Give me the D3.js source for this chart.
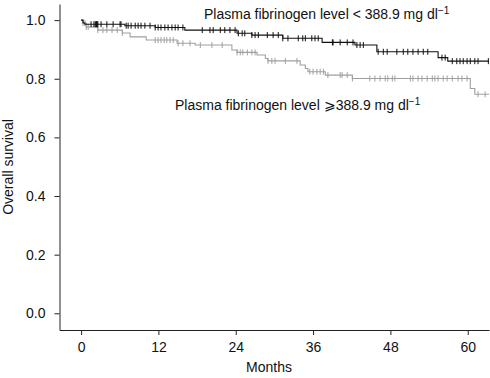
<!DOCTYPE html>
<html>
<head>
<meta charset="utf-8">
<script src="https://cdn.jsdelivr.net/npm/d3@7"></script>
<style>
  body { margin: 0; background: #fff; }
  text { font-family: "Liberation Sans", Arial, Helvetica, sans-serif; }
</style>
</head>
<body>
<div id="chart"></div>
<script>
// Kaplan-Meier steps: [month, survival after the drop]
var lowSteps = [[0,1],[0.3,0.99],[0.6,0.986],[6.8,0.981],[11.5,0.975],[16.1,0.966],[24.2,0.955],
    [26.5,0.949],[31.3,0.938],[37.4,0.924],[42.5,0.915],[45.9,0.892],[55.4,0.872],[56.9,0.860]];
var highSteps = [[0,1],[0.3,0.99],[0.8,0.977],[2.6,0.966],[6.4,0.956],[7.6,0.943],[10.1,0.932],
    [14.9,0.921],[17.7,0.915],[23.4,0.898],[24.2,0.890],[27.3,0.881],[28.6,0.869],[29.0,0.861],
    [34.0,0.847],[34.8,0.835],[35.2,0.824],[37.9,0.8125],[42.1,0.801],[60.4,0.767],[61.1,0.747]];
var followUpEnd = 63.3;

// censored observations (months)
var lowCensor = [1.55,2.0,2.2,2.33,2.4,2.5,2.6,3.1,4.0,4.97,6.05,6.2,7.0,7.3,7.76,8.4,8.85,9.3,9.9,10.7,11.5,
    11.95,12.4,13.0,13.5,14.1,14.6,15.05,15.8,18.8,20.0,20.5,21.6,22.3,23.1,23.9,24.4,25.0,25.4,26.5,27.0,
    27.5,28.9,29.8,30.6,31.3,32.1,33.7,34.4,34.8,35.8,36.3,36.8,39.0,39.1,40.2,41.3,42.2,42.8,43.3,43.8,
    46.1,46.9,47.5,49.0,50.0,50.7,51.5,52.3,53.1,53.8,56.0,56.5,57.6,58.3,58.8,59.3,59.9,60.4,61.1,61.6,63.2];
var highCensor = [0.3,0.6,0.8,1.1,2.6,3.4,4.0,4.8,5.6,6.4,11.5,11.95,12.4,12.9,13.3,13.8,14.3,15.05,15.8,16.9,
    18.5,20.3,21.9,24.2,24.7,25.1,25.8,26.5,27.0,29.0,29.6,30.1,31.7,33.5,35.5,36.0,36.6,37.1,37.6,38.3,
    40.2,40.5,41.3,42.1,44.8,45.6,46.4,47.2,47.6,48.3,48.7,51.1,51.5,52.3,52.9,53.7,54.5,54.9,55.4,56.2,
    56.8,57.6,58.5,59.1,59.9,61.6,62.7];

var monthTicks = [0, 12, 24, 36, 48, 60];
var survTicks = [0, 0.2, 0.4, 0.6, 0.8, 1.0];

var svg = d3.select("#chart").append("svg")
    .attr("width", 490)
    .attr("height", 378);

var x = d3.scaleLinear().domain([-3.35, 63.3]).range([59.5, 489]);
var y = d3.scaleLinear().domain([-0.057, 1.055]).range([330, 4]);

function survAt(steps, t) {
    var s = 1;
    steps.forEach(function(d) { if (d[0] <= t) s = d[1]; });
    return s;
}

var line = d3.line()
    .x(function(d) { return x(d[0]); })
    .y(function(d) { return y(d[1]); })
    .curve(d3.curveStepAfter);

function drawGroup(steps, censor, color) {
    var pts = steps.concat([[followUpEnd, steps[steps.length - 1][1]]]);
    svg.append("path")
        .attr("d", line(pts))
        .attr("fill", "none")
        .attr("stroke", color)
        .attr("stroke-width", 1.1);
    svg.selectAll(null)
        .data(censor)
        .enter().append("line")
        .attr("x1", function(d) { return x(d); })
        .attr("x2", function(d) { return x(d); })
        .attr("y1", function(d) { return y(survAt(steps, d)) - 3; })
        .attr("y2", function(d) { return y(survAt(steps, d)) + 3; })
        .attr("stroke", color)
        .attr("stroke-width", 1);
}

drawGroup(highSteps, highCensor, "#a0a0a0");
drawGroup(lowSteps, lowCensor, "#111");

// axes
var xAxis = svg.append("g")
    .attr("transform", "translate(0,330)")
    .call(d3.axisBottom(x).tickValues(monthTicks).tickSize(5).tickPadding(7).tickSizeOuter(0));
var yAxis = svg.append("g")
    .attr("transform", "translate(59.5,0)")
    .call(d3.axisLeft(y).tickValues(survTicks).tickFormat(d3.format(".1f")).tickSize(5).tickPadding(9).tickSizeOuter(0));

[xAxis, yAxis].forEach(function(a) {
    a.select(".domain").attr("stroke", "#222");
    a.selectAll(".tick line").attr("stroke", "#222");
    a.selectAll(".tick text")
        .attr("fill", "#111")
        .style("font-size", "14px")
        .style("font-family", "'Liberation Sans', Arial, sans-serif");
});

svg.append("text")
    .attr("x", 269)
    .attr("y", 372)
    .attr("text-anchor", "middle")
    .attr("fill", "#111")
    .style("font-size", "14px")
    .text("Months");

svg.append("text")
    .attr("transform", "translate(13,167) rotate(-90)")
    .attr("text-anchor", "middle")
    .attr("fill", "#111")
    .style("font-size", "14px")
    .text("Overall survival");

// group labels
function groupLabel(xp, yp, str) {
    var t = svg.append("text")
        .attr("x", xp)
        .attr("y", yp)
        .attr("fill", "#111")
        .style("font-size", "14px");
    t.append("tspan").text(str);
    t.append("tspan")
        .attr("dy", -5)
        .style("font-size", "10px")
        .text("\u22121");
}
groupLabel(204, 18.5, "Plasma fibrinogen level < 388.9 mg dl");
groupLabel(175, 110, "Plasma fibrinogen level \u2A7E388.9 mg dl");
</script>
</body>
</html>
